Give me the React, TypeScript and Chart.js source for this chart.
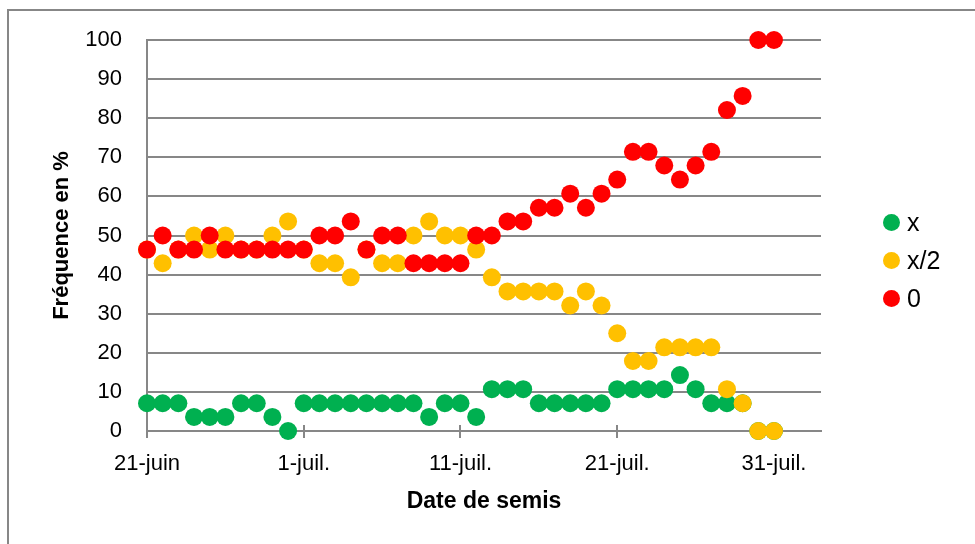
import React, { useEffect, useRef } from 'react';
import { Chart, registerables } from 'chart.js';

Chart.register(...registerables);

// Day offsets from 21 June (date de semis)
const dayOffsets = [
  0, 1, 2, 3, 4, 5, 6, 7, 8, 9, 10, 11, 12, 13, 14, 15, 16, 17, 18, 19, 20,
  21, 22, 23, 24, 25, 26, 27, 28, 29, 30, 31, 32, 33, 34, 35, 36, 37, 38, 39, 40,
];
const xTickValues = [0, 10, 20, 30, 40];
const xTickLabels = ['21-juin', '1-juil.', '11-juil.', '21-juil.', '31-juil.'];
const yTickValues = [0, 10, 20, 30, 40, 50, 60, 70, 80, 90, 100];

const seriesNames = ['x', 'x/2', '0'];
const seriesColors = ['#00B050', '#FFC000', '#FF0000'];

const freqX = [
  7.1, 7.1, 7.1, 3.6, 3.6, 3.6, 7.1, 7.1, 3.6, 0, 7.1, 7.1, 7.1, 7.1, 7.1, 7.1, 7.1, 7.1, 3.6, 7.1, 7.1,
  3.6, 10.7, 10.7, 10.7, 7.1, 7.1, 7.1, 7.1, 7.1, 10.7, 10.7, 10.7, 10.7, 14.3, 10.7, 7.1, 7.1, 7.1, 0, 0,
];
const freqHalf = [
  46.4, 42.9, 46.4, 50, 46.4, 50, 46.4, 46.4, 50, 53.6, 46.4, 42.9, 42.9, 39.3, 46.4, 42.9, 42.9, 50, 53.6, 50, 50,
  46.4, 39.3, 35.7, 35.7, 35.7, 35.7, 32.1, 35.7, 32.1, 25, 17.9, 17.9, 21.4, 21.4, 21.4, 21.4, 10.7, 7.1, 0, 0,
];
const freqZero = [
  46.4, 50, 46.4, 46.4, 50, 46.4, 46.4, 46.4, 46.4, 46.4, 46.4, 50, 50, 53.6, 46.4, 50, 50, 42.9, 42.9, 42.9, 42.9,
  50, 50, 53.6, 53.6, 57.1, 57.1, 60.7, 57.1, 60.7, 64.3, 71.4, 71.4, 67.9, 64.3, 67.9, 71.4, 82.1, 85.7, 100, 100,
];

const FONT = "'Liberation Sans', Arial, sans-serif";
const GRID = '#878787';

const CANVAS_W = 966;
const CANVAS_H = 533;

const decorPlugin = {
  id: 'decor',
  beforeDatasetsDraw(chart: any) {
    const ctx = chart.ctx;
    const area = chart.chartArea;
    const xs = chart.scales.x;
    ctx.save();
    ctx.strokeStyle = GRID;
    ctx.lineWidth = 2;
    xTickValues.forEach((v) => {
      const px = Math.round(xs.getPixelForValue(v));
      ctx.beginPath();
      ctx.moveTo(px, area.bottom - 6);
      ctx.lineTo(px, area.bottom + 7);
      ctx.stroke();
    });
    ctx.restore();
  },
  afterDraw(chart: any) {
    const ctx = chart.ctx;
    const area = chart.chartArea;
    ctx.save();
    ctx.fillStyle = '#000';
    // x axis title
    ctx.font = `bold 23px ${FONT}`;
    ctx.textAlign = 'center';
    ctx.textBaseline = 'alphabetic';
    ctx.fillText('Date de semis', (area.left + area.right) / 2, 497);
    // y axis title
    ctx.save();
    ctx.translate(53, (area.top + area.bottom) / 2);
    ctx.rotate(-Math.PI / 2);
    ctx.font = `bold 22px ${FONT}`;
    ctx.textAlign = 'center';
    ctx.textBaseline = 'middle';
    ctx.fillText('Fréquence en %', 0, 0);
    ctx.restore();
    // legend
    const baselines = [220, 258, 296];
    ctx.font = `25px ${FONT}`;
    ctx.textAlign = 'left';
    ctx.textBaseline = 'alphabetic';
    seriesNames.forEach((name, i) => {
      ctx.fillStyle = seriesColors[i];
      ctx.beginPath();
      ctx.arc(882.5, baselines[i] - 8.5, 8.5, 0, Math.PI * 2);
      ctx.fill();
      ctx.fillStyle = '#000';
      ctx.fillText(name, 898, baselines[i]);
    });
    ctx.restore();
  },
};

export default function App() {
  const ref = useRef<HTMLCanvasElement | null>(null);

  useEffect(() => {
    if (!ref.current) return;
    const series = [freqX, freqHalf, freqZero];
    const chart = new Chart(ref.current, {
      type: 'scatter',
      data: {
        datasets: series.map((vals, i) => ({
          label: seriesNames[i],
          data: dayOffsets.map((d, j) => ({ x: d, y: vals[j] })),
          backgroundColor: seriesColors[i],
          borderColor: seriesColors[i],
          borderWidth: 0,
          pointRadius: 9,
          pointHoverRadius: 9,
          clip: false,
          order: 2 - i,
        })),
      },
      options: {
        responsive: false,
        maintainAspectRatio: false,
        animation: false,
        devicePixelRatio: 1,
        layout: { padding: { top: 29, right: CANVAS_W - 812, left: 0, bottom: 0 } },
        plugins: {
          legend: { display: false },
          tooltip: { enabled: false },
          title: { display: false },
        },
        scales: {
          x: {
            type: 'linear',
            min: 0,
            max: 43,
            afterBuildTicks: (scale: any) => {
              scale.ticks = xTickValues.map((v) => ({ value: v }));
            },
            afterFit: (scale: any) => {
              scale.height = CANVAS_H - 420;
              scale.paddingLeft = 0;
              scale.paddingRight = 0;
            },
            grid: { display: true, drawOnChartArea: false, drawTicks: false },
            border: { display: true, color: GRID, width: 2 },
            ticks: {
              padding: 20,
              color: '#000',
              font: { family: FONT, size: 22 },
              maxRotation: 0,
              autoSkip: false,
              callback: (v: any) => {
                const idx = xTickValues.indexOf(Number(v));
                return idx >= 0 ? xTickLabels[idx] : '';
              },
            },
          },
          y: {
            type: 'linear',
            min: 0,
            max: 100,
            afterBuildTicks: (scale: any) => {
              scale.ticks = yTickValues.map((v) => ({ value: v }));
            },
            afterFit: (scale: any) => {
              scale.width = 138;
              scale.paddingTop = 0;
              scale.paddingBottom = 0;
            },
            grid: { color: GRID, lineWidth: 2, drawTicks: false },
            border: { display: true, color: GRID, width: 2 },
            ticks: {
              padding: 25,
              color: '#000',
              font: { family: FONT, size: 22 },
            },
          },
        },
      },
      plugins: [decorPlugin],
    });
    return () => chart.destroy();
  }, []);

  return (
    <div
      style={{
        position: 'absolute',
        left: 7,
        top: 9,
        width: 968,
        height: 535,
        boxSizing: 'border-box',
        borderLeft: `2px solid ${GRID}`,
        borderTop: `2px solid ${GRID}`,
        background: '#fff',
      }}
    >
      <canvas ref={ref} width={CANVAS_W} height={CANVAS_H} style={{ display: 'block' }} />
    </div>
  );
}
